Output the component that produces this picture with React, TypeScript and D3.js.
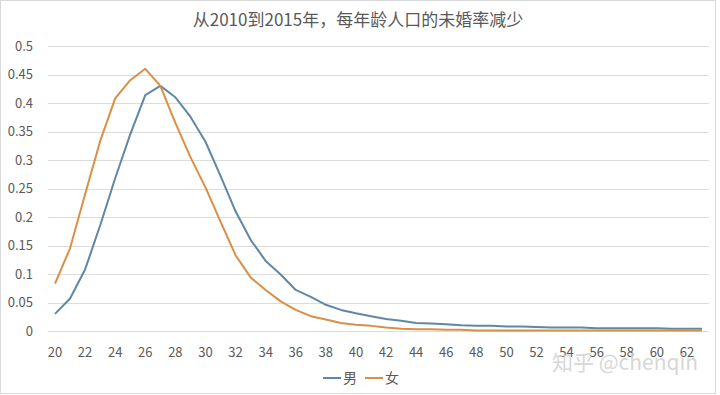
import React, { useEffect, useRef } from "react";
import * as d3 from "d3";

const ages = d3.range(20, 64);
const male = [
  0.03, 0.057, 0.108, 0.185, 0.268, 0.345, 0.414, 0.43, 0.41, 0.376,
  0.332, 0.272, 0.21, 0.16, 0.123, 0.099, 0.072, 0.06, 0.046, 0.037,
  0.031, 0.026, 0.021, 0.018, 0.014, 0.013, 0.012, 0.01, 0.009, 0.009,
  0.008, 0.008, 0.007, 0.006, 0.006, 0.006, 0.005, 0.005, 0.005, 0.005,
  0.005, 0.004, 0.004, 0.004,
];
const female = [
  0.083, 0.145, 0.24, 0.333, 0.408, 0.44, 0.46, 0.43, 0.365, 0.305,
  0.252, 0.192, 0.133, 0.094, 0.072, 0.052, 0.037, 0.026, 0.02, 0.014,
  0.011, 0.009, 0.006, 0.004, 0.003, 0.003, 0.002, 0.002, 0.001, 0.001,
  0.001, 0.001, 0.001, 0.001, 0.001, 0.001, 0.001, 0.001, 0.001, 0.001,
  0.001, 0.001, 0.001, 0.001,
];
const yTicks = [0, 0.05, 0.1, 0.15, 0.2, 0.25, 0.3, 0.35, 0.4, 0.45, 0.5];
const xTicks = d3.range(20, 63, 2);
const seriesNames = ["男", "女"];
const colors = ["#5f88a6", "#d98f44"];
const title = "从2010到2015年，每年龄人口的未婚率减少";

const W = 720,
  H = 395;
const FONT = "'Noto Sans CJK SC', 'Noto Sans', sans-serif";

export default function App() {
  const ref = useRef<SVGSVGElement>(null);

  useEffect(() => {
    const svg = d3.select(ref.current);
    svg.selectAll("*").remove();

    const margin = { top: 46, right: 10, bottom: 64, left: 48 };
    const x = d3
      .scalePoint<number>()
      .domain(ages)
      .range([55, 702]);
    const y = d3
      .scaleLinear()
      .domain([0, 0.5])
      .range([H - margin.bottom, margin.top]);

    svg.append("rect")
      .attr("x", 0.5).attr("y", 0.5)
      .attr("width", 715).attr("height", 393)
      .attr("fill", "#fff")
      .attr("stroke", "#d9d9d9");

    // gridlines
    svg.append("g")
      .selectAll("line")
      .data(yTicks)
      .join("line")
      .attr("x1", 48).attr("x2", 709)
      .attr("y1", d => Math.round(y(d)) + 0.5)
      .attr("y2", d => Math.round(y(d)) + 0.5)
      .attr("stroke", "#dcdcdc");

    // y labels
    svg.append("g")
      .selectAll("text")
      .data(yTicks)
      .join("text")
      .attr("x", 33)
      .attr("y", d => y(d) + 4.5)
      .attr("text-anchor", "end")
      .attr("font-size", 13)
      .attr("font-family", FONT)
      .attr("fill", "#595959")
      .text(d => String(d));

    // x labels
    svg.append("g")
      .selectAll("text")
      .data(xTicks)
      .join("text")
      .attr("x", d => x(d)!)
      .attr("y", 357)
      .attr("text-anchor", "middle")
      .attr("font-size", 13)
      .attr("font-family", FONT)
      .attr("fill", "#595959")
      .text(d => String(d));

    const line = d3
      .line<number>()
      .x((_, i) => x(ages[i])!)
      .y(d => y(d));

    [male, female].forEach((s, i) => {
      svg.append("path")
        .datum(s)
        .attr("d", line)
        .attr("fill", "none")
        .attr("stroke", colors[i])
        .attr("stroke-width", 2)
        .attr("stroke-linejoin", "round");
    });

    // title
    svg.append("text")
      .attr("x", 358)
      .attr("y", 26)
      .attr("text-anchor", "middle")
      .attr("font-size", 17)
      .attr("font-family", FONT)
      .attr("fill", "#595959")
      .text(title);

    // legend
    const legX = [323, 365];
    seriesNames.forEach((name, i) => {
      const g = svg.append("g").attr("transform", `translate(${legX[i]},378)`);
      g.append("line")
        .attr("x1", 0).attr("x2", 18)
        .attr("stroke", colors[i])
        .attr("stroke-width", 2);
      g.append("text")
        .attr("x", 20)
        .attr("y", 5)
        .attr("font-size", 14)
        .attr("font-family", FONT)
        .attr("fill", "#595959")
        .text(name);
    });

    // watermark
    svg.append("text")
      .attr("x", 552)
      .attr("y", 370)
      .attr("font-size", 21)
      .attr("font-family", FONT)
      .attr("fill", "#d0d0d0")
      .attr("fill-opacity", 0.85)
      .text("知乎 @chenqin");
  }, []);

  return (
    <div style={{ position: "absolute", left: 0, top: 0 }}>
      <svg ref={ref} width={W} height={H} />
    </div>
  );
}
